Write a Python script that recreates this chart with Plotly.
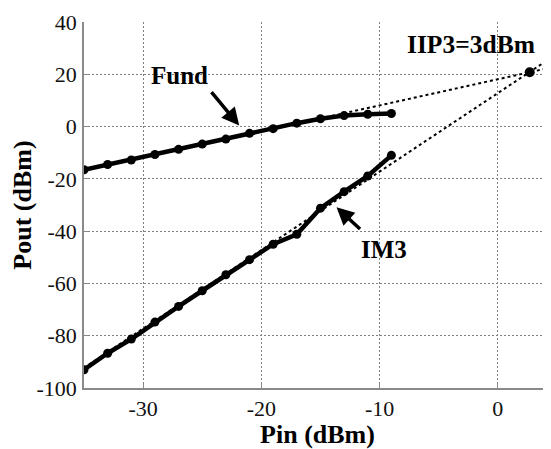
import plotly.graph_objects as go

pin = [-35, -33, -31, -29, -27, -25, -23, -21, -19, -17, -15, -13, -11, -9]
fund = [-16.5, -14.5, -12.8, -10.7, -8.7, -6.7, -4.8, -2.6, -0.8, 1.3, 3.0, 4.2, 4.7, 5.0]
im3 = [-93.0, -86.7, -81.3, -74.8, -68.8, -62.8, -56.7, -50.9, -45.0, -41.2, -31.2, -24.9, -18.9, -11.0]

fund_ext_x = [-19, 4.5]
fund_ext_y = [-0.9, 22.6]
im3_ext_x = [-35, 4.5]
im3_ext_y = [-92.3, 26.3]
iip3_x = [2.7]
iip3_y = [20.8]

x_ticks = [-30, -20, -10, 0]
y_ticks = [-100, -80, -60, -40, -20, 0, 20, 40]

FONT = "Liberation Serif"

fig = go.Figure()
fig.add_trace(go.Scatter(x=fund_ext_x, y=fund_ext_y, mode="lines",
                         line=dict(color="black", width=2, dash="dot"), showlegend=False))
fig.add_trace(go.Scatter(x=im3_ext_x, y=im3_ext_y, mode="lines",
                         line=dict(color="black", width=2, dash="dot"), showlegend=False))
fig.add_trace(go.Scatter(x=pin, y=fund, mode="lines+markers",
                         line=dict(color="black", width=4.5),
                         marker=dict(color="black", size=9), showlegend=False))
fig.add_trace(go.Scatter(x=pin, y=im3, mode="lines+markers",
                         line=dict(color="black", width=4.5),
                         marker=dict(color="black", size=9), showlegend=False))
fig.add_trace(go.Scatter(x=iip3_x, y=iip3_y, mode="markers",
                         marker=dict(color="black", size=10), showlegend=False))

fig.add_annotation(x=-21.87, y=0.4, ax=-29, ay=-35, xref="x", yref="y",
                   showarrow=True, arrowhead=2, arrowsize=1, arrowwidth=3.5,
                   arrowcolor="black", text="")
fig.add_annotation(x=-13.64, y=-30.9, ax=25, ay=23, xref="x", yref="y",
                   showarrow=True, arrowhead=2, arrowsize=1, arrowwidth=3.5,
                   arrowcolor="black", text="")
fig.add_annotation(x=-26.9, y=19.5, text="<b>Fund</b>", showarrow=False,
                   font=dict(family=FONT, size=25, color="black"))
fig.add_annotation(x=-9.6, y=-47, text="<b>IM3</b>", showarrow=False,
                   font=dict(family=FONT, size=25, color="black"))
fig.add_annotation(x=-2.3, y=31.4, text="<b>IIP3=3dBm</b>", showarrow=False,
                   font=dict(family=FONT, size=25.5, color="black"))

axis_common = dict(showline=True, linecolor="#8a8a8a", linewidth=1.5,
                   ticks="inside", ticklen=4, tickcolor="#8a8a8a",
                   showgrid=True, gridcolor="#808080", griddash="2px,2px", gridwidth=1,
                   zeroline=False, mirror=False, automargin=False,
                   tickfont=dict(family=FONT, size=22, color="#111111"))

fig.update_xaxes(range=[-35, 4.5], tickvals=x_ticks, ticktext=[str(v) for v in x_ticks],
                 ticklabelstandoff=0,
                 title=dict(text="<b>Pin (dBm)</b>", font=dict(family=FONT, size=26, color="black"),
                            standoff=8),
                 **axis_common)
fig.update_yaxes(range=[-100, 40], tickvals=y_ticks, ticktext=[str(v) for v in y_ticks],
                 ticklabelstandoff=1,
                 title=dict(text="<b>Pout (dBm)</b>", font=dict(family=FONT, size=26, color="black"),
                            standoff=0),
                 **axis_common)

fig.update_layout(width=543, height=441, margin=dict(l=76, r=0, t=14, b=61),
                  plot_bgcolor="white", paper_bgcolor="white")
fig.write_html("out.html")
